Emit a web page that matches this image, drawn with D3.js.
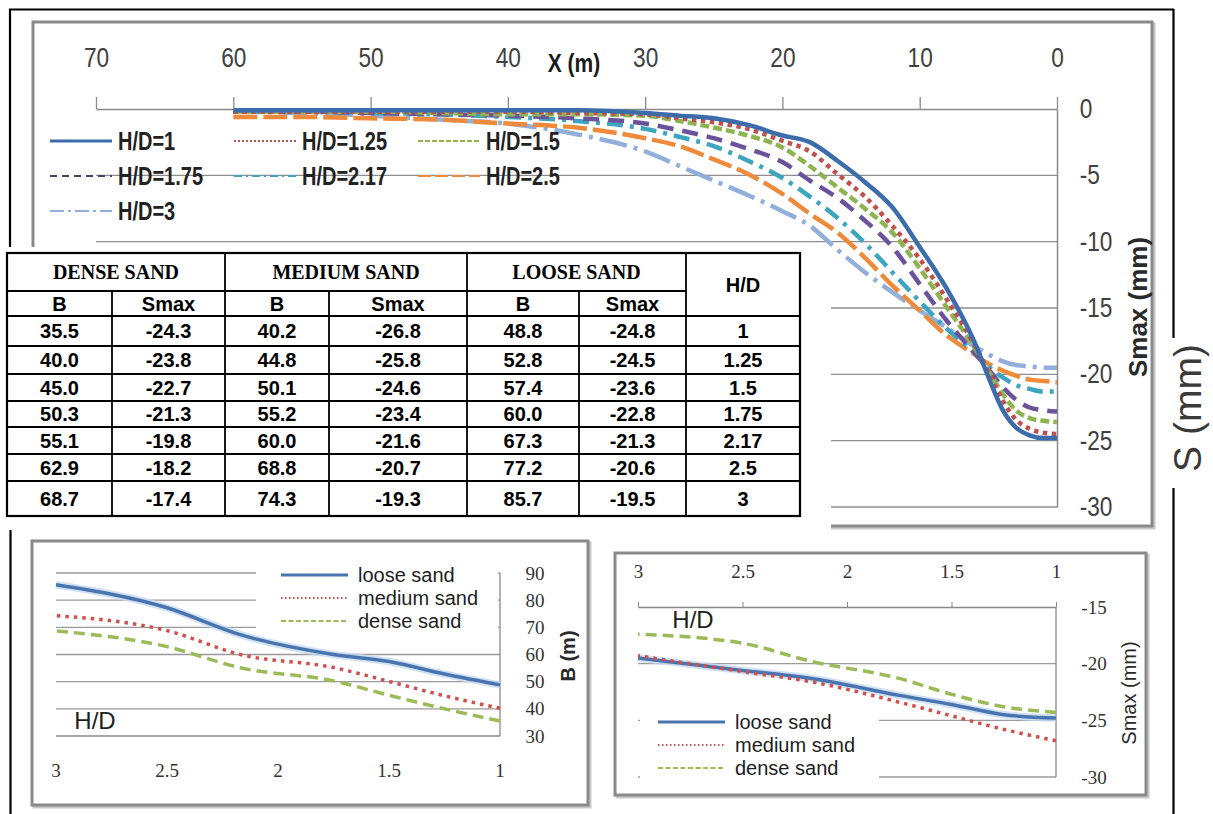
<!DOCTYPE html>
<html>
<head>
<meta charset="utf-8">
<script src="https://cdn.jsdelivr.net/npm/d3@7"></script>
<style>
  body { margin: 0; background: #fff; }
  svg { display: block; }
</style>
</head>
<body>
<svg id="fig" width="1213" height="814"></svg>
<script>
// ---- settlement profiles (loose sand): distance X (m) and settlement S (mm) ----
const profileX = [60, 55, 50, 45, 40, 35, 30, 27.5, 25, 22.5, 20, 18, 16, 14, 12, 10, 8, 6, 5, 4, 3, 2, 1, 0];
const sHD1    = [-0.1, -0.1, -0.1, -0.1, -0.1, -0.1, -0.3, -0.5, -0.7, -1.2, -2.0, -2.5, -3.9, -5.5, -7.4, -10.4, -13.6, -17.6, -20.2, -22.6, -24.0, -24.6, -24.8, -24.8];
const sHD125  = [-0.2, -0.2, -0.2, -0.2, -0.2, -0.3, -0.4, -0.7, -1.0, -1.5, -2.4, -3.2, -4.9, -6.6, -8.8, -11.3, -14.4, -17.8, -19.8, -21.9, -23.4, -24.1, -24.4, -24.5];
const sHD15   = [-0.2, -0.2, -0.2, -0.3, -0.4, -0.4, -0.5, -0.9, -1.4, -2.0, -2.9, -4.3, -5.9, -7.5, -9.3, -12.0, -15.0, -18.0, -19.7, -21.4, -22.7, -23.3, -23.5, -23.6];
const sHD175  = [-0.2, -0.2, -0.3, -0.4, -0.5, -0.7, -1.1, -1.6, -2.2, -3.0, -4.0, -5.4, -6.7, -8.4, -10.4, -13.2, -16.0, -18.4, -19.6, -20.9, -21.9, -22.5, -22.7, -22.8];
const sHD217  = [-0.2, -0.2, -0.3, -0.4, -0.6, -0.9, -1.5, -2.1, -2.8, -3.9, -5.2, -6.6, -8.2, -10.1, -12.3, -14.5, -16.6, -18.4, -19.4, -20.2, -20.8, -21.1, -21.3, -21.3];
const sHD25   = [-0.6, -0.6, -0.7, -0.8, -1.1, -1.4, -2.2, -2.8, -3.8, -4.9, -6.4, -7.9, -9.3, -11.2, -13.3, -15.2, -17.1, -18.5, -19.2, -19.7, -20.1, -20.4, -20.5, -20.6];
const sHD3    = [-0.2, -0.3, -0.5, -0.8, -1.1, -1.9, -3.2, -4.3, -5.4, -6.5, -7.7, -8.8, -10.6, -12.3, -13.8, -15.2, -16.5, -17.9, -18.5, -19.0, -19.3, -19.4, -19.5, -19.5];
const profiles = [sHD1, sHD125, sHD15, sHD175, sHD217, sHD25, sHD3];

// ---- summary table: trough width B (m) and max settlement Smax (mm) per H/D ----
const hdValues = [1, 1.25, 1.5, 1.75, 2.17, 2.5, 3];
const denseB   = [35.5, 40.0, 45.0, 50.3, 55.1, 62.9, 68.7];
const denseS   = [-24.3, -23.8, -22.7, -21.3, -19.8, -18.2, -17.4];
const mediumB  = [40.2, 44.8, 50.1, 55.2, 60.0, 68.8, 74.3];
const mediumS  = [-26.8, -25.8, -24.6, -23.4, -21.6, -20.7, -19.3];
const looseB   = [48.8, 52.8, 57.4, 60.0, 67.3, 77.2, 85.7];
const looseS   = [-24.8, -24.5, -23.6, -22.8, -21.3, -20.6, -19.5];

const sandNames = ["loose sand", "medium sand", "dense sand"];
const groupNames = ["DENSE SAND", "MEDIUM SAND", "LOOSE SAND"];

// ---- tick values ----
const xTicksMain = [70, 60, 50, 40, 30, 20, 10, 0];
const yTicksMain = [0, -5, -10, -15, -20, -25, -30];
const hdTicks = [3, 2.5, 2, 1.5, 1];
const bTicks = [30, 40, 50, 60, 70, 80, 90];
const smaxTicks = [-15, -20, -25, -30];

// ---- styling ----
const profileColors = ["#3d6cab", "#c0504d", "#8db451", "#6b539b", "#3da5bf", "#ef8a3b", "#92aedb"];
const profileDash   = [null, "4.5,4.5", "9,4", "16,9", "16,7,4,7", "24,6", "28,7,4,7"];
const legendDash    = [null, "2,2", "5,2", "7,5", "8,4,2,4", "13,4", "14,4,3,4"];
const legendColors  = ["#3d6cab", "#c0504d", "#8db451", "#444466", "#3da5bf", "#ef8a3b", "#92aedb"];
const sandColors = ["#4874b0", "#d0504d", "#9bbb59"];
const sandDash   = [null, "3.5,5", "11,6"];
const SANS = "'Liberation Sans', Arial, sans-serif";
const SERIF = "'Liberation Serif', 'Times New Roman', serif";
const NARROW_SCALE = "scale(0.84,1)";

const svg = d3.select("#fig");
svg.append("rect").attr("width", 1213).attr("height", 814).attr("fill", "#fff");

function chartBox(g, x, y, w, h) {
  g.append("rect").attr("x", x + 2).attr("y", y + 2).attr("width", w).attr("height", h)
    .attr("fill", "none").attr("stroke", "#c8c8c8").attr("stroke-width", 3);
  g.append("rect").attr("x", x).attr("y", y).attr("width", w).attr("height", h)
    .attr("fill", "#fff").attr("stroke", "#8a8a8a").attr("stroke-width", 3);
}

// ---- outer frame (upper part) ----
const frame = svg.append("g").attr("stroke", "#000").attr("stroke-width", 2.2);
frame.append("line").attr("x1", 9).attr("x2", 1174).attr("y1", 9.5).attr("y2", 9.5);
frame.append("line").attr("x1", 10).attr("x2", 10).attr("y1", 9).attr("y2", 250);
frame.append("line").attr("x1", 1173.5).attr("x2", 1173.5).attr("y1", 9).attr("y2", 338);
frame.append("line").attr("x1", 1173.5).attr("x2", 1173.5).attr("y1", 488).attr("y2", 814);

// ================= main chart: settlement profiles =================
const xM = d3.scaleLinear().domain([70, 0]).range([96, 1057]);
const yM = d3.scaleLinear().domain([0, -30]).range([109, 507]);
const gM = svg.append("g");
chartBox(gM, 33, 22, 1119, 504);

gM.append("g").selectAll("line").data(yTicksMain.filter(d => d !== 0)).join("line")
  .attr("x1", xM(70)).attr("x2", xM(0))
  .attr("y1", d => yM(d)).attr("y2", d => yM(d))
  .attr("stroke", "#8e8e8e").attr("stroke-width", 1.3);

const axTop = gM.append("g").attr("transform", `translate(0,${yM(0)})`)
  .call(d3.axisTop(xM).tickValues(xTicksMain).tickSize(12).tickSizeOuter(0).tickPadding(30).tickFormat(d => String(d)));
axTop.select(".domain").attr("stroke", "#8a8a8a").attr("stroke-width", 1.5);
axTop.selectAll(".tick line").attr("stroke", "#8a8a8a").attr("stroke-width", 1.3);
axTop.selectAll("text").attr("font-family", SANS).attr("font-size", 27).attr("fill", "#404040").attr("transform", NARROW_SCALE);

const axRight = gM.append("g").attr("transform", `translate(${xM(0)},0)`)
  .call(d3.axisRight(yM).tickValues(yTicksMain).tickSize(0).tickSizeOuter(0).tickPadding(27).tickFormat(d => String(d)));
axRight.select(".domain").attr("stroke", "#8a8a8a").attr("stroke-width", 1.5);
axRight.selectAll("text").attr("font-family", SANS).attr("font-size", 27).attr("fill", "#404040").attr("transform", NARROW_SCALE);

gM.append("text").attr("transform", `translate(574,63) ${NARROW_SCALE}`).attr("dy", "0.35em").attr("text-anchor", "middle")
  .attr("font-family", SANS).attr("font-weight", "bold").attr("font-size", 25).attr("fill", "#1a1a1a").text("X (m)");
gM.append("text").attr("transform", "translate(1138,307) rotate(-90)").attr("dy", "0.35em").attr("text-anchor", "middle")
  .attr("font-family", SANS).attr("font-weight", "bold").attr("font-size", 26).attr("fill", "#2a2a2a").text("Smax (mm)");

const lineM = d3.line().x((d, i) => xM(profileX[i])).y(d => yM(d)).curve(d3.curveMonotoneX);
gM.append("g").selectAll("path").data(profiles.map((p, i) => ({ p, i })).reverse()).join("path")
  .attr("d", d => lineM(d.p))
  .attr("fill", "none")
  .attr("stroke", d => profileColors[d.i])
  .attr("stroke-width", 4.5)
  .attr("stroke-dasharray", d => profileDash[d.i]);

// legend
const legCols = [118, 302, 486], legRows = [141, 176, 211];
const leg = gM.append("g").selectAll("g").data(hdValues).join("g")
  .attr("transform", (d, i) => `translate(${legCols[i % 3]},${legRows[Math.floor(i / 3)]})`);
leg.append("line").attr("x1", -68).attr("x2", -6).attr("y1", 0).attr("y2", 0)
  .attr("stroke", (d, i) => legendColors[i]).attr("stroke-width", (d, i) => i === 0 ? 3 : 2)
  .attr("stroke-dasharray", (d, i) => legendDash[i]);
leg.append("text").attr("x", 0).attr("dy", "0.35em").attr("transform", "scale(0.8,1)")
  .attr("font-family", SANS).attr("font-weight", "bold").attr("font-size", 25).attr("fill", "#222")
  .text(d => "H/D=" + d);

// the table sits over the lower-left part of the chart
svg.append("rect").attr("x", 0).attr("y", 247).attr("width", 831).attr("height", 289).attr("fill", "#fff");

// ================= summary table =================
const colX = [7, 112, 225, 329, 467, 579, 686, 800];
const rowY = [253, 291, 316, 346, 374, 401, 427, 454, 481, 516];
const gT = svg.append("g");
gT.append("rect").attr("x", colX[0]).attr("y", rowY[0]).attr("width", colX[7] - colX[0]).attr("height", rowY[9] - rowY[0])
  .attr("fill", "#fff").attr("stroke", "#000").attr("stroke-width", 2.2);
const tl = gT.append("g").attr("stroke", "#000").attr("stroke-width", 1.8);
tl.append("line").attr("x1", colX[0]).attr("x2", colX[6]).attr("y1", rowY[1]).attr("y2", rowY[1]);
rowY.slice(2, 9).forEach(y => tl.append("line").attr("x1", colX[0]).attr("x2", colX[7]).attr("y1", y).attr("y2", y));
[2, 4, 6].forEach(c => tl.append("line").attr("x1", colX[c]).attr("x2", colX[c]).attr("y1", rowY[0]).attr("y2", rowY[9]));
[1, 3, 5].forEach(c => tl.append("line").attr("x1", colX[c]).attr("x2", colX[c]).attr("y1", rowY[1]).attr("y2", rowY[9]));

function cellText(x, y, str, font, size) {
  gT.append("text").attr("x", x).attr("y", y).attr("dy", "0.36em").attr("text-anchor", "middle")
    .attr("font-family", font).attr("font-weight", "bold").attr("font-size", size).attr("fill", "#000").text(str);
}
groupNames.forEach((name, k) => cellText((colX[2 * k] + colX[2 * k + 2]) / 2, (rowY[0] + rowY[1]) / 2, name, SERIF, 20));
cellText((colX[6] + colX[7]) / 2, (rowY[0] + rowY[2]) / 2, "H/D", SANS, 20);
[0, 2, 4].forEach(c => {
  cellText((colX[c] + colX[c + 1]) / 2, (rowY[1] + rowY[2]) / 2, "B", SANS, 20);
  cellText((colX[c + 1] + colX[c + 2]) / 2, (rowY[1] + rowY[2]) / 2, "Smax", SANS, 20);
});
const tableCols = [denseB, denseS, mediumB, mediumS, looseB, looseS];
hdValues.forEach((hd, r) => {
  const yc = (rowY[r + 2] + rowY[r + 3]) / 2;
  tableCols.forEach((col, c) => cellText((colX[c] + colX[c + 1]) / 2, yc, col[r].toFixed(1), SANS, 20));
  cellText((colX[6] + colX[7]) / 2, yc, String(hd), SANS, 20);
});

// outer frame (lower-left part)
svg.append("line").attr("x1", 10.5).attr("x2", 10.5).attr("y1", 530).attr("y2", 814).attr("stroke", "#000").attr("stroke-width", 2.2);

// big axis caption on the right
svg.append("text").attr("transform", "translate(1187,408) rotate(-90)").attr("dy", "0.35em").attr("text-anchor", "middle")
  .attr("font-family", SANS).attr("font-size", 39).attr("fill", "#3a3a3a").text("S (mm)");

// helper for the two small charts
function sandLine(g, xs, ys, series, i, width) {
  const ln = d3.line().x((d, k) => xs(hdValues[k])).y(d => ys(d)).curve(d3.curveMonotoneX);
  if (i === 0) {
    g.append("path").attr("d", ln(series)).attr("fill", "none").attr("stroke", "#c6d9f0").attr("stroke-width", width + 4).attr("opacity", 0.8);
  }
  g.append("path").attr("d", ln(series)).attr("fill", "none")
    .attr("stroke", sandColors[i]).attr("stroke-width", width)
    .attr("stroke-dasharray", sandDash[i]);
}
function sandLegend(g, x, ys) {
  const lg = g.append("g").selectAll("g").data(sandNames).join("g").attr("transform", (d, i) => `translate(${x},${ys[i]})`);
  lg.append("line").attr("x1", -77).attr("x2", -10).attr("y1", 0).attr("y2", 0)
    .attr("stroke", (d, i) => sandColors[i]).attr("stroke-width", (d, i) => i === 0 ? 3 : 2)
    .attr("stroke-dasharray", (d, i) => i === 0 ? null : (i === 1 ? "1.5,2.5" : "5,2.5"));
  lg.append("text").attr("dy", "0.35em").attr("font-family", SANS).attr("font-size", 20).attr("fill", "#1e1e1e").text(d => d);
}

// ================= lower-left chart: B vs H/D =================
const xBL = d3.scaleLinear().domain([3, 1]).range([56, 500]);
const yBL = d3.scaleLinear().domain([30, 90]).range([736, 573]);
const gBL = svg.append("g");
chartBox(gBL, 32, 541, 556, 264);
gBL.append("g").selectAll("line").data(bTicks).join("line")
  .attr("x1", xBL(3)).attr("x2", xBL(1)).attr("y1", d => yBL(d)).attr("y2", d => yBL(d))
  .attr("stroke", d => d === 30 ? "#8a8a8a" : "#9a9a9a").attr("stroke-width", 1.3);
gBL.append("line").attr("x1", xBL(1)).attr("x2", xBL(1)).attr("y1", yBL(90)).attr("y2", yBL(30)).attr("stroke", "#8a8a8a").attr("stroke-width", 1.3);
gBL.append("rect").attr("x", 256).attr("y", 560).attr("width", 242).attr("height", 76).attr("fill", "#fff");
gBL.append("g").selectAll("text").data(bTicks).join("text")
  .attr("x", 535).attr("y", d => yBL(d)).attr("dy", "0.35em").attr("text-anchor", "middle")
  .attr("font-family", SERIF).attr("font-size", 19).attr("fill", "#333").text(d => String(d));
gBL.append("g").selectAll("text").data(hdTicks).join("text")
  .attr("x", d => xBL(d)).attr("y", 770).attr("dy", "0.35em").attr("text-anchor", "middle")
  .attr("font-family", SERIF).attr("font-size", 19).attr("fill", "#333").text(d => String(d));
gBL.append("text").attr("x", 95).attr("y", 721).attr("dy", "0.35em").attr("text-anchor", "middle")
  .attr("font-family", SANS).attr("font-size", 24).attr("fill", "#1e1e1e").text("H/D");
gBL.append("text").attr("transform", "translate(568,656) rotate(-90)").attr("dy", "0.35em").attr("text-anchor", "middle")
  .attr("font-family", SANS).attr("font-weight", "bold").attr("font-size", 20).attr("fill", "#2a2a2a").text("B (m)");
[looseB, mediumB, denseB].forEach((s, i) => sandLine(gBL, xBL, yBL, s, i, 3.5));
sandLegend(gBL, 358, [575, 598, 621]);

// ================= lower-right chart: Smax vs H/D =================
const xBR = d3.scaleLinear().domain([3, 1]).range([638, 1056]);
const yBR = d3.scaleLinear().domain([-15, -30]).range([607, 777]);
const gBR = svg.append("g");
chartBox(gBR, 615, 553, 531, 242);
gBR.append("g").selectAll("line").data(smaxTicks.filter(d => d !== -15)).join("line")
  .attr("x1", xBR(3)).attr("x2", xBR(1)).attr("y1", d => yBR(d)).attr("y2", d => yBR(d))
  .attr("stroke", "#9a9a9a").attr("stroke-width", 1.3);
const axBR = gBR.append("g").attr("transform", `translate(0,${yBR(-15)})`)
  .call(d3.axisTop(xBR).tickValues(hdTicks).tickSize(5).tickSizeOuter(0).tickPadding(24).tickFormat(d => String(d)));
axBR.select(".domain").attr("stroke", "#8a8a8a").attr("stroke-width", 1.5);
axBR.selectAll(".tick line").attr("stroke", "#8a8a8a");
axBR.selectAll("text").attr("font-family", SERIF).attr("font-size", 19).attr("fill", "#333");
gBR.append("line").attr("x1", xBR(1)).attr("x2", xBR(1)).attr("y1", yBR(-15)).attr("y2", yBR(-30)).attr("stroke", "#8a8a8a").attr("stroke-width", 1.3);
gBR.append("rect").attr("x", 640).attr("y", 703).attr("width", 239).attr("height", 88).attr("fill", "#fff");
gBR.append("g").selectAll("text").data(smaxTicks).join("text")
  .attr("x", 1094).attr("y", d => yBR(d)).attr("dy", "0.35em").attr("text-anchor", "middle")
  .attr("font-family", SERIF).attr("font-size", 19).attr("fill", "#333").text(d => String(d));
gBR.append("text").attr("x", 693).attr("y", 620).attr("dy", "0.35em").attr("text-anchor", "middle")
  .attr("font-family", SANS).attr("font-size", 24).attr("fill", "#1e1e1e").text("H/D");
gBR.append("text").attr("transform", "translate(1129,693) rotate(-90)").attr("dy", "0.35em").attr("text-anchor", "middle")
  .attr("font-family", SANS).attr("font-size", 20).attr("fill", "#2a2a2a").text("Smax (mm)");
[looseS, mediumS, denseS].forEach((s, i) => sandLine(gBR, xBR, yBR, s, i, 3.5));
sandLegend(gBR, 735, [722, 745, 768]);
</script>
</body>
</html>
